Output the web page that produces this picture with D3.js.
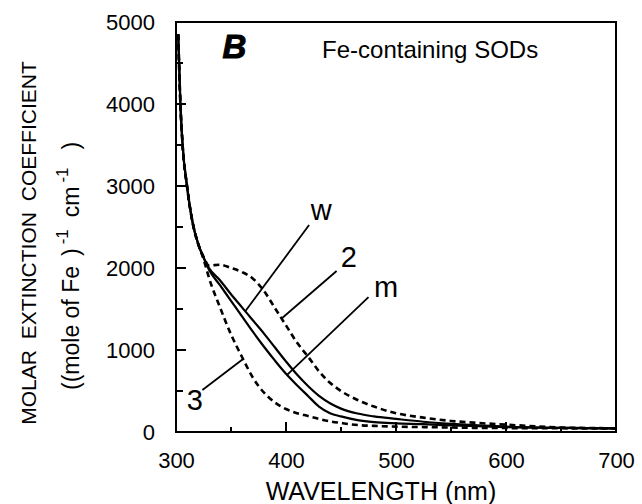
<!DOCTYPE html>
<html>
<head>
<meta charset="utf-8">
<script src="https://cdn.jsdelivr.net/npm/d3@7"></script>
<style>
  body { margin: 0; background: #fff; }
  text { font-family: "Liberation Sans", Arial, sans-serif; fill: #000; }
</style>
</head>
<body>
<svg id="chart" width="642" height="504"></svg>
<script>
// wavelength grid (nm) shared by every spectrum
const wavelengths = [302, 304, 306, 310, 315, 320, 325, 330, 340, 350, 360, 370, 380, 390, 400,
  410, 420, 430, 440, 450, 465, 480, 500, 525, 550, 575, 600, 650, 700];

// molar extinction coefficient
const wValues = [4850, 4000, 3500, 3000, 2560, 2300, 2130, 2000, 1850, 1680, 1520, 1360, 1200, 1030, 860,
  700, 560, 440, 350, 285, 225, 190, 160, 125, 100, 80, 65, 50, 45];
const mValues = [4850, 4000, 3500, 3000, 2560, 2300, 2130, 1980, 1790, 1600, 1410, 1220, 1040, 870, 710,
  570, 440, 310, 230, 190, 145, 120, 105, 95, 80, 70, 60, 50, 45];
const mut2Values = [4850, 4000, 3500, 3000, 2560, 2300, 2140, 2030, 2040, 2000, 1950, 1870, 1720, 1510, 1300,
  1090, 920, 740, 600, 500, 390, 310, 230, 175, 135, 110, 90, 55, 45];
const mut3Values = [4850, 4000, 3500, 3000, 2560, 2300, 2110, 1880, 1520, 1190, 915, 660, 480, 360, 280,
  230, 195, 160, 130, 110, 85, 75, 65, 60, 55, 50, 48, 45, 42];

const xTicks = [300, 400, 500, 600, 700];
const xMinorTicks = [350, 450, 550, 650];
const yTicks = [0, 1000, 2000, 3000, 4000, 5000];
const yMinorTicks = [500, 1500, 2500, 3500, 4500];

// curve labels: text position, leader start, and wavelength where the leader meets its curve
const labelNames = ["w", "2", "m", "3"];
const labelAt = [[432, 2585], [457, 2012], [491, 1646], [317, 268]];
const leaderFrom = [[421, 2524], [446, 1963], [475, 1646], [324, 512]];
const leaderToNm = [363, 396, 401, 361];

const series = [
  { name: "2", values: mut2Values, dashed: true },
  { name: "3", values: mut3Values, dashed: true },
  { name: "w", values: wValues, dashed: false },
  { name: "m", values: mValues, dashed: false }
];

const svg = d3.select("#chart");
const margin = { top: 22, right: 26, bottom: 72, left: 176 };
const width = 642 - margin.left - margin.right;
const height = 504 - margin.top - margin.bottom;

const g = svg.append("g").attr("transform", `translate(${margin.left},${margin.top})`);

const x = d3.scaleLinear().domain([300, 700]).range([0, width]);
const y = d3.scaleLinear().domain([0, 5000]).range([height, 0]);

// tick labels from the axes
g.append("g").attr("transform", `translate(0,${height})`)
  .call(d3.axisBottom(x).tickValues(xTicks).tickSize(0).tickPadding(20).tickFormat(d3.format("d")));
g.append("g")
  .call(d3.axisLeft(y).tickValues(yTicks).tickSize(0).tickPadding(21).tickFormat(d3.format("d")));
g.selectAll(".domain").remove();
g.selectAll(".tick text").attr("font-size", 22).style("font-family", "Liberation Sans, Arial, sans-serif");

// frame
g.append("rect")
  .attr("width", width).attr("height", height)
  .attr("fill", "none").attr("stroke", "#000").attr("stroke-width", 2);

// inward tick marks, one path
const tickPath = d3.path();
xTicks.forEach(t => { tickPath.moveTo(x(t), height); tickPath.lineTo(x(t), height - 10); });
xMinorTicks.forEach(t => { tickPath.moveTo(x(t), height); tickPath.lineTo(x(t), height - 5); });
yTicks.forEach(t => { tickPath.moveTo(0, y(t)); tickPath.lineTo(10, y(t)); });
yMinorTicks.forEach(t => { tickPath.moveTo(0, y(t)); tickPath.lineTo(7, y(t)); });
g.append("path")
  .attr("d", tickPath.toString())
  .style("stroke", "#000")
  .style("stroke-width", "2px")
  .style("fill", "none");

const line = d3.line()
  .x((d, i) => x(wavelengths[i]))
  .y(d => y(d))
  .curve(d3.curveMonotoneX);

g.selectAll(".spectrum")
  .data(series)
  .enter().append("path")
  .attr("class", "spectrum")
  .attr("d", d => line(d.values))
  .attr("fill", "none")
  .attr("stroke", "#000")
  .attr("stroke-width", d => d.dashed ? 2.6 : 2.2)
  .attr("stroke-dasharray", d => d.dashed ? "6,4" : null);

// leader lines and curve labels
const valueAt = (name, nm) => {
  const s = series.find(d => d.name === name);
  return d3.scaleLinear().domain(wavelengths).range(s.values)(nm);
};

labelNames.forEach((name, i) => {
  g.append("line")
    .attr("x1", x(leaderFrom[i][0])).attr("y1", y(leaderFrom[i][1]))
    .attr("x2", x(leaderToNm[i])).attr("y2", y(valueAt(name, leaderToNm[i])))
    .attr("stroke", "#000").attr("stroke-width", 1.8);
  g.append("text")
    .attr("x", x(labelAt[i][0])).attr("y", y(labelAt[i][1]))
    .attr("text-anchor", "middle")
    .attr("font-size", 29)
    .text(name);
});

// panel letter and title
g.append("text")
  .attr("x", x(353)).attr("y", y(4560))
  .attr("font-size", 33).attr("font-weight", "bold").attr("font-style", "italic")
  .attr("stroke", "#000").attr("stroke-width", 1)
  .attr("text-anchor", "middle")
  .text("B");
g.append("text")
  .attr("x", x(531)).attr("y", y(4560))
  .attr("text-anchor", "middle")
  .attr("font-size", 24)
  .text("Fe-containing SODs");

// axis titles
svg.append("text")
  .attr("x", 381).attr("y", 500)
  .attr("text-anchor", "middle")
  .attr("font-size", 25)
  .text("WAVELENGTH (nm)");

svg.append("text")
  .attr("transform", "translate(36,243) rotate(-90)")
  .attr("text-anchor", "middle")
  .attr("font-size", 21)
  .attr("word-spacing", 5)
  .text("MOLAR EXTINCTION COEFFICIENT");

const unit = svg.append("text")
  .attr("transform", "translate(79,390) rotate(-90)")
  .attr("font-size", 23);
unit.append("tspan").text("((mole of Fe");
unit.append("tspan").attr("dx", 10).text(")");
unit.append("tspan").attr("dx", 4).attr("dy", -11).attr("font-size", 17).text("-1");
unit.append("tspan").attr("dx", 12).attr("dy", 11).text("cm");
unit.append("tspan").attr("dx", 4).attr("dy", -11).attr("font-size", 17).text("-1");
unit.append("tspan").attr("dx", 18).attr("dy", 11).text(")");
</script>
</body>
</html>
